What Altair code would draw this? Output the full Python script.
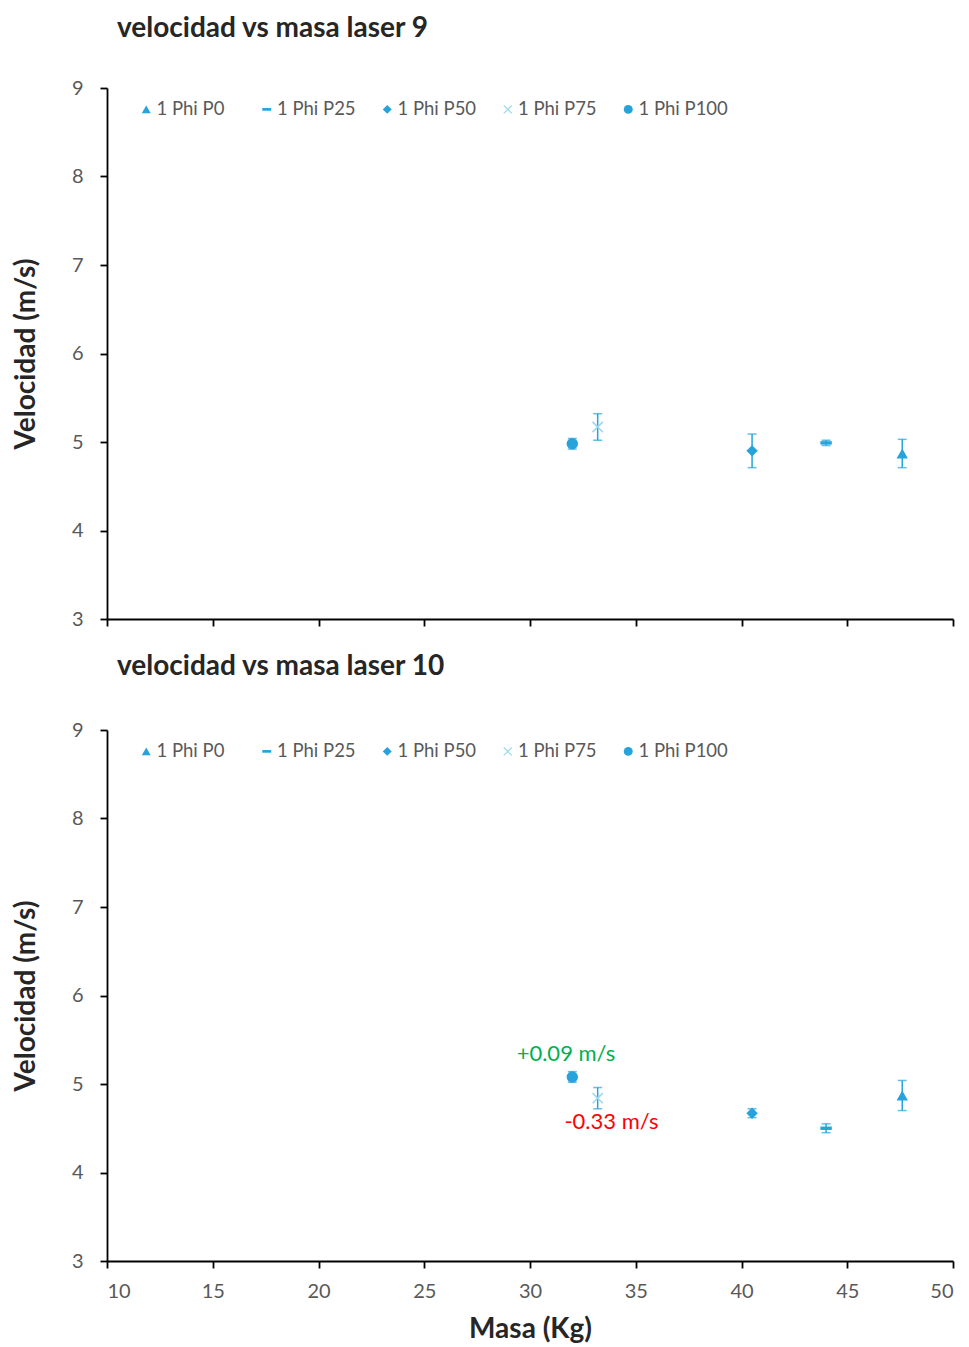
import altair as alt
import pandas as pd

series = ["1 Phi P0", "1 Phi P25", "1 Phi P50", "1 Phi P75", "1 Phi P100"]
masa = [47.6, 44.0, 40.5, 33.2, 32.0]
vel_l9 = [4.87, 4.99, 4.90, 5.17, 4.98]
err_l9 = [0.16, 0.03, 0.19, 0.15, 0.06]
vel_l10 = [4.87, 4.50, 4.67, 4.84, 5.08]
err_l10 = [0.17, 0.05, 0.05, 0.12, 0.06]

ann_text = ["+0.09 m/s", "-0.33 m/s"]
ann_x = [31.7, 33.85]
ann_y = [5.34, 4.57]
ann_color = ["#00b050", "#ff0000"]

x_ticks = [10, 15, 20, 25, 30, 35, 40, 45, 50]
y_ticks = [3, 4, 5, 6, 7, 8, 9]

BLUE = "#27a3dc"
LIGHT = "#9fd6f0"
shape_range = [
    "triangle-up",
    "M-1,-0.3H1V0.3H-1Z",
    "diamond",
    "M-1,-0.8L-0.8,-1L0,-0.2L0.8,-1L1,-0.8L0.2,0L1,0.8L0.8,1L0,0.2L-0.8,1L-1,0.8L-0.2,0Z",
    "circle",
]
color_range = [BLUE, BLUE, BLUE, LIGHT, BLUE]

FONT = "Lato"


def make_legend():
    return alt.Legend(
        title=None,
        orient="none",
        legendX=30,
        legendY=12,
        direction="horizontal",
        columns=5,
        gridAlign="all",
        columnPadding=11.5,
        symbolSize=80,
        labelFontSize=18.5,
        labelFont=FONT,
        labelColor="#595959",
        labelOffset=1,
    )


def panel(vel, err, title, show_x_labels, annotate, title_offset):
    df = pd.DataFrame({
        "serie": series,
        "masa": masa,
        "vel": vel,
        "lo": [v - e for v, e in zip(vel, err)],
        "hi": [v + e for v, e in zip(vel, err)],
    })
    x_scale = alt.Scale(domain=[10, 50], nice=False, zero=False)
    x = alt.X(
        "masa:Q",
        scale=x_scale,
        axis=alt.Axis(
            values=x_ticks,
            labels=show_x_labels,
            title="Masa (Kg)" if show_x_labels else None,
            labelPadding=13,
            titlePadding=14,
        ),
    )
    y_scale = alt.Scale(domain=[3, 9], nice=False, zero=False)
    base = alt.Chart(df)
    rules = base.mark_rule(color=BLUE, strokeWidth=1.5).encode(
        x=x, y=alt.Y("lo:Q", scale=y_scale), y2="hi:Q"
    )
    caps_lo = base.mark_tick(color=BLUE, orient="horizontal", size=9, thickness=1.5).encode(
        x=x, y=alt.Y("lo:Q", scale=y_scale)
    )
    caps_hi = base.mark_tick(color=BLUE, orient="horizontal", size=9, thickness=1.5).encode(
        x=x, y=alt.Y("hi:Q", scale=y_scale)
    )
    points = base.mark_point(filled=True, size=130, opacity=1).encode(
        x=x,
        y=alt.Y(
            "vel:Q",
            scale=y_scale,
            axis=alt.Axis(
                values=y_ticks,
                format="d",
                title="Velocidad (m/s)",
                titleX=-81,
                titleBaseline="middle",
                labelPadding=17,
            ),
        ),
        shape=alt.Shape("serie:N", scale=alt.Scale(domain=series, range=shape_range), legend=make_legend()),
        color=alt.Color("serie:N", scale=alt.Scale(domain=series, range=color_range), legend=make_legend()),
    )
    layers = [rules, caps_lo, caps_hi, points]
    if annotate:
        adf = pd.DataFrame({"t": ann_text, "x": ann_x, "y": ann_y, "c": ann_color})
        txt = alt.Chart(adf).mark_text(fontSize=22, font=FONT, align="center", baseline="middle").encode(
            x=alt.X("x:Q", scale=x_scale),
            y=alt.Y("y:Q", scale=y_scale),
            text="t:N",
            color=alt.Color("c:N", scale=None),
        )
        layers.append(txt)
    return alt.layer(*layers).properties(
        width=846,
        height=531,
        title=alt.TitleParams(
            title, anchor="start", frame="group", dx=10, fontSize=28, font=FONT,
            fontWeight="bold", color="#262626", offset=title_offset,
        ),
    )


top = panel(vel_l9, err_l9, "velocidad vs masa laser 9", False, False, 35)
bottom = panel(vel_l10, err_l10, "velocidad vs masa laser 10", True, True, 39)

chart = (
    alt.vconcat(top, bottom, spacing=24)
    .resolve_scale(color="independent", shape="independent")
    .configure_view(stroke=None)
    .configure_axis(
        grid=False,
        domainColor="#000000",
        domainWidth=1.8,
        tickColor="#000000",
        tickWidth=1.8,
        tickSize=7,
        labelFont=FONT,
        labelFontSize=20,
        labelColor="#595959",
        titleFont=FONT,
        titleFontSize=28,
        titleFontWeight="bold",
        titleColor="#262626",
    )
    .properties(padding={"left": 4, "top": 7, "right": 5, "bottom": 5})
)

chart.save("out.html", embed_options={"renderer": "svg", "actions": False})
